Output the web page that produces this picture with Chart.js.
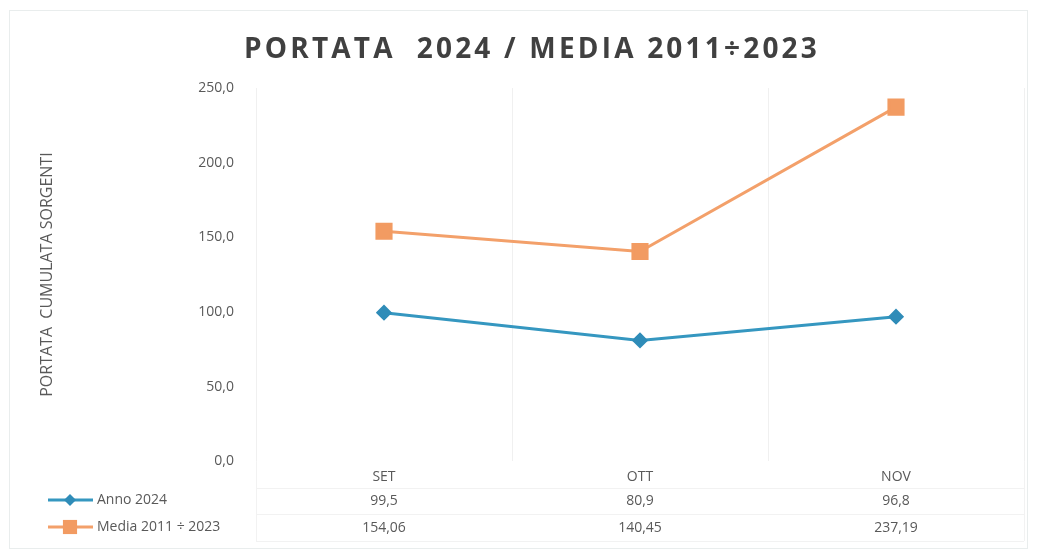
<!DOCTYPE html>
<html>
<head>
<meta charset="utf-8">
<script src="https://cdn.jsdelivr.net/npm/chart.js@4/dist/chart.umd.min.js"></script>
<style>
  html, body { margin: 0; padding: 0; background: #fff; }
  #wrap { width: 1037px; height: 555px; }
</style>
</head>
<body>
<div id="wrap"><canvas id="myChart" width="1037" height="555"></canvas></div>
<script>
const titleText = 'PORTATA  2024 / MEDIA 2011÷2023';
const months = ['SET', 'OTT', 'NOV'];
const anno2024 = [99.5, 80.9, 96.8];
const media2011_2023 = [154.06, 140.45, 237.19];
const seriesNames = ['Anno 2024', 'Media 2011 ÷ 2023'];
const yTicks = [0, 50, 100, 150, 200, 250];

const blue = '#3597c0';
const orange = '#f3a06a';
const textGrey = '#595959';
const fontName = "'Open Sans', sans-serif";

const comma = (v) => String(v).replace('.', ',');

// frame, spaced-out title, and the data table with legend keys
const dataTable = {
    id: 'dataTable',
    beforeDraw(chart) {
        const ctx = chart.ctx;
        ctx.save();
        ctx.strokeStyle = '#e9eded';
        ctx.lineWidth = 1;
        ctx.strokeRect(9.5, 10.5, 1018, 538);
        ctx.restore();
    },
    afterDraw(chart) {
        const ctx = chart.ctx;
        const x = chart.scales.x;
        const area = chart.chartArea;
        const rows = [anno2024, media2011_2023];
        const rowY = [501, 528];
        ctx.save();

        // title
        ctx.font = 'bold 28px ' + fontName;
        ctx.letterSpacing = '3.2px';
        ctx.fillStyle = '#404040';
        ctx.textAlign = 'center';
        ctx.textBaseline = 'middle';
        ctx.fillText(titleText, 532, 50);
        ctx.letterSpacing = '0px';

        // faint table lines
        ctx.strokeStyle = '#f2f2f2';
        ctx.lineWidth = 1;
        [488, 514, 541].forEach(y => {
            ctx.beginPath();
            ctx.moveTo(area.left, y + 0.5);
            ctx.lineTo(area.right, y + 0.5);
            ctx.stroke();
        });
        [area.left, area.right].forEach(px => {
            ctx.beginPath();
            ctx.moveTo(Math.round(px) + 0.5, area.bottom);
            ctx.lineTo(Math.round(px) + 0.5, 541);
            ctx.stroke();
        });

        ctx.font = '14px ' + fontName;
        ctx.fillStyle = textGrey;
        rows.forEach((row, r) => {
            row.forEach((v, i) => {
                ctx.fillText(comma(v), x.getPixelForValue(i), rowY[r]);
            });
        });

        // legend keys
        chart.data.datasets.forEach((ds, r) => {
            const y = rowY[r] - 1;
            ctx.strokeStyle = ds.borderColor;
            ctx.lineWidth = 3;
            ctx.beginPath();
            ctx.moveTo(48, y);
            ctx.lineTo(93, y);
            ctx.stroke();
            ctx.fillStyle = ds.pointBackgroundColor;
            Chart.helpers.drawPoint(ctx, {
                pointStyle: ds.pointStyle,
                rotation: 0,
                borderWidth: 0,
                radius: ds.pointRadius
            }, 70, y);
            ctx.fillStyle = textGrey;
            ctx.textAlign = 'left';
            ctx.fillText(seriesNames[r], 97, y);
        });
        ctx.restore();
    }
};

const ctx = document.getElementById('myChart');

const chart = new Chart(ctx, {
    type: 'line',
    data: {
        labels: months,
        datasets: [{
            label: seriesNames[0],
            data: anno2024,
            borderColor: blue,
            backgroundColor: blue,
            pointBackgroundColor: '#2f8cb8',
            pointBorderColor: '#2f8cb8',
            borderWidth: 3,
            pointStyle: 'rectRot',
            pointRadius: 6,
            tension: 0
        }, {
            label: seriesNames[1],
            data: media2011_2023,
            borderColor: orange,
            backgroundColor: orange,
            pointBackgroundColor: '#f29b62',
            pointBorderColor: '#f29b62',
            borderWidth: 3,
            pointStyle: 'rect',
            pointRadius: 10,
            tension: 0
        }]
    },
    options: {
        responsive: false,
        animation: false,
        layout: {
            padding: { left: 20, right: 8, top: 88, bottom: 63 }
        },
        plugins: {
            legend: { display: false },
            tooltip: { enabled: false },
            title: { display: false }
        },
        scales: {
            x: {
                offset: true,
                grid: { display: true, offset: true, color: '#f0f0f0', drawTicks: false },
                border: { display: false },
                ticks: {
                    color: textGrey,
                    padding: 7,
                    font: { family: fontName, size: 14 }
                }
            },
            y: {
                min: 0,
                max: 250,
                afterBuildTicks: (scale) => { scale.ticks = yTicks.map(v => ({ value: v })); },
                afterFit: (scale) => { scale.width = 236; },
                grid: { display: false },
                border: { display: false },
                ticks: {
                    color: textGrey,
                    padding: 14,
                    font: { family: fontName, size: 14 },
                    callback: (v) => v.toFixed(1).replace('.', ',')
                },
                title: {
                    display: true,
                    text: 'PORTATA  CUMULATA SORGENTI',
                    color: textGrey,
                    font: { family: fontName, size: 16 },
                    padding: { top: 18, bottom: 0 }
                }
            }
        }
    },
    plugins: [dataTable]
});
</script>
</body>
</html>
